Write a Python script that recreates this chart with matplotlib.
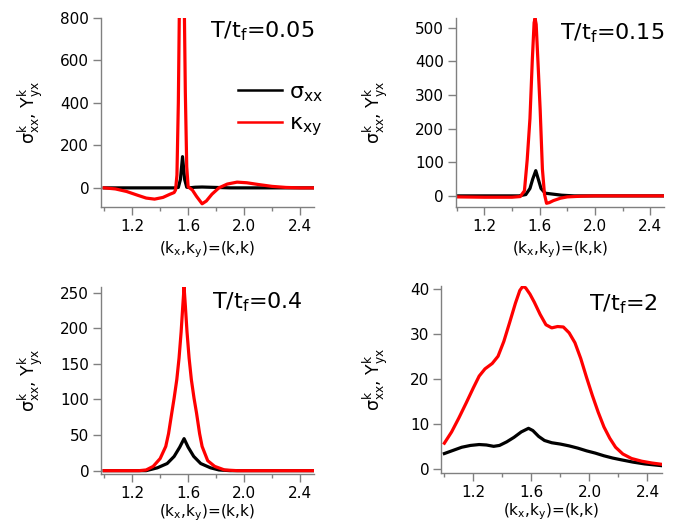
import matplotlib
matplotlib.use("Agg")
import matplotlib.pyplot as plt
from matplotlib.ticker import FixedLocator

plt.rcParams["font.family"] = ["DejaVu Sans"]
plt.rcParams["mathtext.fontset"] = "custom"
plt.rcParams["mathtext.rm"] = "DejaVu Sans"
plt.rcParams["mathtext.it"] = "DejaVu Sans"
plt.rcParams["mathtext.bf"] = "DejaVu Sans:bold"

# T/tf = 0.05
k_005_sig = [1.00, 1.30, 1.50, 1.53, 1.545, 1.56, 1.575, 1.59, 1.62, 1.65, 1.70, 1.80, 1.90, 2.50]
sig_005 = [0, 0, 0, 2, 40, 147, 40, 3, 1, 3, 4, 2, 0, 0]
k_005_kap = [1.00, 1.08, 1.16, 1.24, 1.30, 1.36, 1.42, 1.47, 1.50, 1.51, 1.52, 1.53, 1.54,
             1.555, 1.57, 1.58, 1.59, 1.60, 1.63, 1.66, 1.70, 1.73, 1.77, 1.82, 1.88,
             1.95, 2.02, 2.10, 2.20, 2.30, 2.40, 2.50]
kap_005 = [0, -5, -17, -35, -48, -53, -45, -30, -22, -10, 60, 400, 1000,
           1500, 1000, 450, 100, 5, -10, -40, -75, -62, -30, 0, 18,
           27, 24, 16, 7, 2, 0, 0]

# T/tf = 0.15
k_015_sig = [1.00, 1.45, 1.50, 1.53, 1.55, 1.572, 1.59, 1.61, 1.64, 1.70, 1.76, 1.85, 2.50]
sig_015 = [0, 0, 4, 22, 50, 75, 50, 22, 8, 5, 2, 0, 0]
k_015_kap = [1.00, 1.20, 1.40, 1.46, 1.49, 1.51, 1.53, 1.547, 1.56, 1.567, 1.575, 1.59,
             1.604, 1.62, 1.635, 1.65, 1.67, 1.70, 1.75, 1.80, 1.90, 2.00, 2.50]
kap_015 = [-3, -4, -4, -2, 15, 107, 230, 404, 515, 528, 510, 380,
           255, 80, 5, -22, -20, -14, -7, -3, -1, 0, 0]

# T/tf = 0.4
k_04_sig = [1.00, 1.30, 1.38, 1.45, 1.50, 1.54, 1.571, 1.60, 1.64, 1.69, 1.76, 1.82, 1.90, 2.50]
sig_04 = [0, 0, 4, 10, 20, 33, 45, 33, 20, 10, 4, 1, 0, 0]
k_04_kap = [1.00, 1.25, 1.30, 1.35, 1.40, 1.44, 1.46, 1.483, 1.50, 1.519, 1.535, 1.55, 1.562,
            1.571, 1.58, 1.592, 1.607, 1.623, 1.642, 1.66, 1.682, 1.70, 1.74, 1.79, 1.86,
            1.95, 2.50]
kap_04 = [0, 0, 1, 6, 17, 34, 52, 81, 102, 128, 158, 195, 232,
          258, 232, 195, 158, 128, 102, 81, 52, 34, 14, 6, 1,
          0, 0]

# T/tf = 2
k_2 = [1.00, 1.05, 1.10, 1.15, 1.20, 1.24, 1.28, 1.33, 1.37, 1.41, 1.45, 1.49, 1.52, 1.54,
       1.56, 1.59, 1.62, 1.66, 1.70, 1.74, 1.78, 1.82, 1.86, 1.90, 1.94, 1.98, 2.02, 2.06,
       2.10, 2.14, 2.18, 2.23, 2.29, 2.36, 2.43, 2.50]
kap_2 = [5.7, 8.2, 11.3, 14.6, 18.0, 20.6, 22.2, 23.4, 25.0, 28.3, 32.5, 36.8, 39.6, 40.5,
         40.2, 38.8, 37.0, 34.3, 32.0, 31.3, 31.6, 31.5, 30.2, 28.0, 24.5, 20.3, 16.3, 12.6,
         9.3, 6.8, 4.8, 3.3, 2.3, 1.7, 1.3, 1.0]
k_2_sig = [1.00, 1.06, 1.12, 1.18, 1.24, 1.29, 1.34, 1.38, 1.43, 1.48, 1.53, 1.58, 1.61, 1.65,
           1.69, 1.74, 1.80, 1.86, 1.92, 1.98, 2.04, 2.10, 2.16, 2.22, 2.30, 2.38, 2.44, 2.50]
sig_2 = [3.4, 4.1, 4.8, 5.2, 5.4, 5.3, 5.0, 5.2, 6.0, 7.0, 8.2, 9.0, 8.5, 7.2,
         6.3, 5.8, 5.5, 5.1, 4.6, 4.0, 3.5, 2.9, 2.4, 2.0, 1.5, 1.1, 0.9, 0.7]

panels = [
    dict(pos=[0.1483, 0.6050, 0.3128, 0.3607], title=r"T/t$_{f}$=0.05", tpos=(1.0, 0.995),
         ks=k_005_sig, s=sig_005, kk=k_005_kap, kap=kap_005, ylim=(-90, 800), xmin=0.977,
         yticks=[0, 200, 400, 600, 800], ylab=-0.263, xpad=4),
    dict(pos=[0.6692, 0.6050, 0.3059, 0.3607], title=r"T/t$_{f}$=0.15", tpos=(1.0, 0.98),
         ks=k_015_sig, s=sig_015, kk=k_015_kap, kap=kap_015, ylim=(-33, 529), xmin=0.993,
         yticks=[0, 100, 200, 300, 400, 500], ylab=-0.316, xpad=4),
    dict(pos=[0.1483, 0.0950, 0.3128, 0.3573], title=r"T/t$_{f}$=0.4", tpos=(0.948, 0.982),
         ks=k_04_sig, s=sig_04, kk=k_04_kap, kap=kap_04, ylim=(-5, 258), xmin=0.977,
         yticks=[0, 50, 100, 150, 200, 250], ylab=-0.263, xpad=1),
    dict(pos=[0.6476, 0.0975, 0.3245, 0.3567], title=r"T/t$_{f}$=2", tpos=(0.98, 0.968),
         ks=k_2_sig, s=sig_2, kk=k_2, kap=kap_2, ylim=(-0.9, 40.6), xmin=0.977,
         yticks=[0, 10, 20, 30, 40], ylab=-0.231, xpad=1),
]

fig = plt.figure(figsize=(6.81, 5.24), dpi=100)
gray = "#808080"

for i, p in enumerate(panels):
    ax = fig.add_axes(p["pos"])
    ax.plot(p["ks"], p["s"], color="black", lw=2.3, label=r"σ$_{xx}$", solid_joinstyle="round")
    ax.plot(p["kk"], p["kap"], color="#ff0000", lw=2.3, label=r"κ$_{xy}$", solid_joinstyle="round")
    ax.set_xlim(p["xmin"], 2.5)
    ax.set_ylim(*p["ylim"])
    ax.xaxis.set_major_locator(FixedLocator([1.2, 1.6, 2.0, 2.4]))
    ax.xaxis.set_minor_locator(FixedLocator([1.0, 1.4, 1.8, 2.2]))
    ax.set_xticklabels(["1.2", "1.6", "2.0", "2.4"])
    ax.set_yticks(p["yticks"])
    for side in ["top", "right"]:
        ax.spines[side].set_visible(False)
    for side in ["left", "bottom"]:
        ax.spines[side].set_color(gray)
        ax.spines[side].set_linewidth(1.0)
    ax.tick_params(which="major", direction="out", length=6, width=1, color=gray,
                   labelsize=11, pad=2.5)
    ax.tick_params(which="minor", direction="out", length=3, width=1, color=gray)
    ax.set_xlabel(r"(k$_x$,k$_y$)=(k,k)", fontsize=11, labelpad=p["xpad"])
    ax.set_ylabel(r"$\sigma^k_{xx}$, $\Upsilon^k_{yx}$", fontsize=12.5)
    ax.yaxis.set_label_coords(p["ylab"], 0.5)
    ax.text(p["tpos"][0], p["tpos"][1], p["title"], transform=ax.transAxes,
            ha="right", va="top", fontsize=16)
    if i == 0:
        leg = ax.legend(loc="center left", bbox_to_anchor=(0.643, 0.513), frameon=False,
                        fontsize=16, handlelength=2.0, handletextpad=0.3,
                        labelspacing=0.45, borderpad=0, borderaxespad=0)
        for line in leg.get_lines():
            line.set_linewidth(1.8)

fig.savefig("out.png", dpi=100)
